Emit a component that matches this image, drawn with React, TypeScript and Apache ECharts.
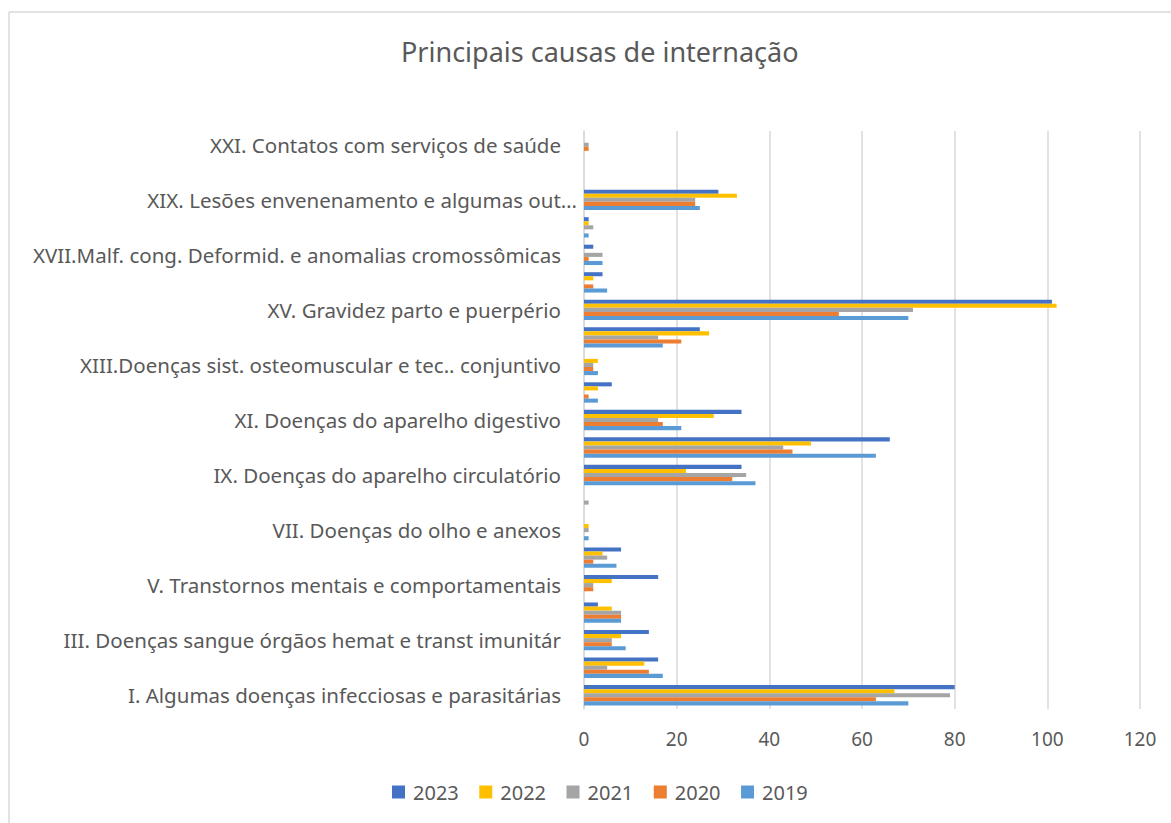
import React, { useEffect, useRef } from "react";
import * as echarts from "echarts";

const categories = [
  "I. Algumas doenças infecciosas e parasitárias",
  "II. Neoplasias (tumores)",
  "III. Doenças sangue órgãos hemat e transt imunitár",
  "IV. Doenças endócrinas nutricionais e metabólicas",
  "V. Transtornos mentais e comportamentais",
  "VI. Doenças do sistema nervoso",
  "VII. Doenças do olho e anexos",
  "VIII.Doenças do ouvido e da apófise mastóide",
  "IX. Doenças do aparelho circulatório",
  "X. Doenças do aparelho respiratório",
  "XI. Doenças do aparelho digestivo",
  "XII. Doenças da pele e do tecido subcutâneo",
  "XIII.Doenças sist. osteomuscular e tec.. conjuntivo",
  "XIV. Doenças do aparelho geniturinário",
  "XV. Gravidez parto e puerpério",
  "XVI. Algumas afec originadas no período perinatal",
  "XVII.Malf. cong. Deformid. e anomalias cromossômicas",
  "XVIII.Sint sinais e achad anorm ex clín e laborat",
  "XIX. Lesões envenenamento e algumas out…",
  "XX. Causas externas de morbidade e mortalidade",
  "XXI. Contatos com serviços de saúde",
];

const values2023 = [80, 16, 14, 3, 16, 8, 0, 0, 34, 66, 34, 6, 0, 25, 101, 4, 2, 1, 29, 0, 0];
const values2022 = [67, 13, 8, 6, 6, 4, 1, 0, 22, 49, 28, 3, 3, 27, 102, 2, 0, 1, 33, 0, 0];
const values2021 = [79, 5, 6, 8, 2, 5, 1, 1, 35, 43, 16, 0, 2, 16, 71, 0, 4, 2, 24, 0, 1];
const values2020 = [63, 14, 6, 8, 2, 2, 0, 0, 32, 45, 17, 1, 2, 21, 55, 2, 1, 0, 24, 0, 1];
const values2019 = [70, 17, 9, 8, 0, 7, 1, 0, 37, 63, 21, 3, 3, 17, 70, 5, 4, 1, 25, 0, 0];

const seriesNames = ["2023", "2022", "2021", "2020", "2019"];
const seriesValues = [values2023, values2022, values2021, values2020, values2019];
const seriesColors = ["#4472C4", "#FFC000", "#A5A5A5", "#ED7D31", "#5B9BD5"];

const xTicks = { min: 0, max: 120, interval: 20 };

const FONT = "'Noto Sans', sans-serif";
const TEXT = "#595959";

export default function App() {
  const ref = useRef<HTMLDivElement>(null);
  useEffect(() => {
    if (!ref.current) return;
    const chart = echarts.init(ref.current, null, { renderer: "svg" });
    const series = seriesNames.map((name, i) => ({
      name,
      type: "bar",
      data: seriesValues[i],
      itemStyle: { color: seriesColors[i] },
      barGap: "0%",
      barCategoryGap: "26%",
    }));
    chart.setOption({
      animation: false,
      backgroundColor: "#ffffff",
      textStyle: { fontFamily: FONT },
      title: {
        text: "Principais causas de internação",
        left: 396,
        top: 33,
        textStyle: { fontFamily: FONT, fontSize: 27, fontWeight: "normal", color: TEXT },
      },
      legend: {
        data: seriesNames,
        bottom: 16,
        left: 387,
        itemWidth: 13,
        itemHeight: 13,
        itemGap: 20.5,
        icon: "rect",
        textStyle: { fontFamily: FONT, fontSize: 20, color: TEXT, padding: [0, 0, 0, 3] },
      },
      grid: { left: 584, right: 31, top: 131, bottom: 114, containLabel: false },
      xAxis: {
        type: "value",
        min: xTicks.min,
        max: xTicks.max,
        interval: xTicks.interval,
        axisLine: { show: false },
        axisTick: { show: false },
        axisLabel: { fontFamily: FONT, fontSize: 19, color: TEXT, margin: 20 },
        splitLine: { lineStyle: { color: "#D9D9D9", width: 1.5 } },
      },
      yAxis: {
        type: "category",
        data: categories,
        axisLine: { show: true, lineStyle: { color: "#D9D9D9", width: 1.5 } },
        axisTick: { show: false },
        axisLabel: {
          interval: 1,
          fontFamily: FONT,
          fontSize: 20.5,
          color: TEXT,
          margin: 23,
          formatter: (v: string) => (v.startsWith("XIX.") ? "{s|" + v + "}" : v),
          rich: {
            s: {
              fontFamily: FONT,
              fontSize: 20.5,
              color: TEXT,
              padding: [0, -16, 0, 0],
            },
          },
        },
        splitLine: { show: false },
      },
      graphic: [
        { type: "line", shape: { x1: 9, y1: 12, x2: 9, y2: 823 }, style: { stroke: "#D9D9D9", lineWidth: 1.5 } },
        { type: "line", shape: { x1: 9, y1: 12, x2: 1171, y2: 12 }, style: { stroke: "#D9D9D9", lineWidth: 1.5 } },
      ],
      series,
    });
    return () => chart.dispose();
  }, []);
  return (
    <div
      ref={ref}
      style={{ position: "fixed", left: 0, top: 0, width: 1171, height: 823 }}
    />
  );
}
